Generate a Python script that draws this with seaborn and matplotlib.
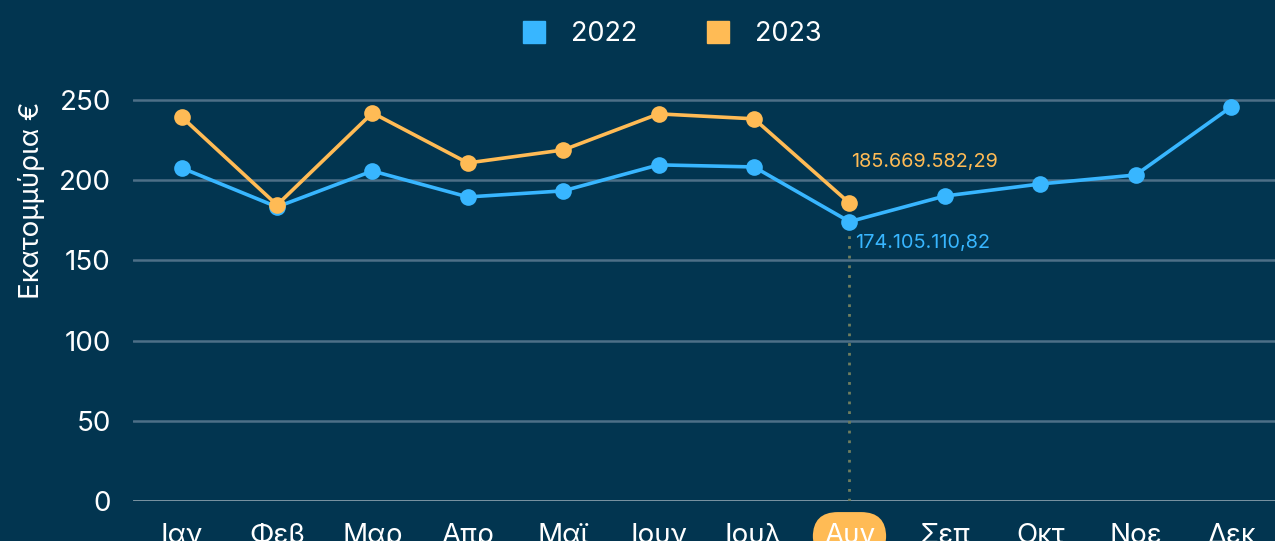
import pandas as pd
import numpy as np
import seaborn as sns
import matplotlib.pyplot as plt
from matplotlib.lines import Line2D

months = ['Ιαν', 'Φεβ', 'Μαρ', 'Απρ', 'Μαϊ', 'Ιουν', 'Ιουλ', 'Αυγ', 'Σεπ', 'Οκτ', 'Νοε', 'Δεκ']
vals_2022 = [207.6, 183.3, 205.7, 189.5, 193.3, 209.5, 208.2, 174.1, 190.1, 197.6, 203.2, 245.6]
vals_2023 = [239.4, 184.5, 241.9, 210.7, 218.8, 241.3, 238.2, 185.67]
label_2022 = '174.105.110,82'
label_2023 = '185.669.582,29'
highlight = 7

bg = '#023550'
blue = '#38b6ff'
orange = '#ffbb55'

sns.set_style('dark')
plt.rcParams['font.family'] = ['Inter', 'DejaVu Sans']

rows = []
for i, v in enumerate(vals_2022):
    rows.append({'pos': i, 'value': v, 'year': '2022'})
for i, v in enumerate(vals_2023):
    rows.append({'pos': i, 'value': v, 'year': '2023'})
data = pd.DataFrame(rows)

fig = plt.figure(figsize=(12.75, 5.41), dpi=100, facecolor=bg)
ax = fig.add_axes([0.1043, 0.074, 0.8957, 0.771])
ax.set_facecolor(bg)

for y in [50, 100, 150, 200, 250]:
    ax.axhline(y, color='#4d6f87', lw=1.8, zorder=0)
ax.axhline(0, color='#9fb0bb', lw=1.8, zorder=0)

# dotted guide under the highlighted month
ax.plot([highlight, highlight], [0, vals_2022[highlight]], color='#6f7d5e', lw=2,
        linestyle=(0, (1, 2.5)), zorder=1)

sns.lineplot(data=data, x='pos', y='value', hue='year', palette={'2022': blue, '2023': orange},
             marker='o', markersize=12, markeredgewidth=0, linewidth=2.6, ax=ax, legend=False,
             zorder=3)

ax.text(highlight + 0.02, vals_2023[highlight] + 20, label_2023, color=orange, fontsize=14.3,
        ha='left', va='bottom')
ax.text(highlight + 0.06, vals_2022[highlight] - 8, label_2022, color=blue, fontsize=14.3,
        ha='left', va='top')

ax.set_xlim(-0.51, 11.46)
ax.set_ylim(0, 260)
ax.set_xticks(range(len(months)))
ax.set_xticklabels(months)
ax.set_yticks([0, 50, 100, 150, 200, 250])
ax.tick_params(axis='both', colors='white', labelsize=20, length=0)
ax.tick_params(axis='x', pad=16)
ax.tick_params(axis='y', pad=16)
hl = ax.get_xticklabels()[highlight]
hl.set_bbox(dict(boxstyle='round,pad=0.4,rounding_size=0.9', facecolor=orange, edgecolor='none'))
ax.set_xlabel('')
ax.set_ylabel('Εκατομμύρια €', color='white', fontsize=20)
ax.yaxis.set_label_coords(-0.077, 0.72)
for s in ax.spines.values():
    s.set_visible(False)
ax.grid(False)

handles = [Line2D([], [], marker='s', linestyle='none', markersize=16, color=blue),
           Line2D([], [], marker='s', linestyle='none', markersize=16, color=orange)]
fig.legend(handles, ['2022', '2023'], loc='center', bbox_to_anchor=(0.521, 0.937), ncol=2,
           frameon=False, fontsize=19.5, labelcolor='white', handletextpad=0.4, columnspacing=1.95)

plt.savefig('out.png', dpi=100, facecolor=bg)
